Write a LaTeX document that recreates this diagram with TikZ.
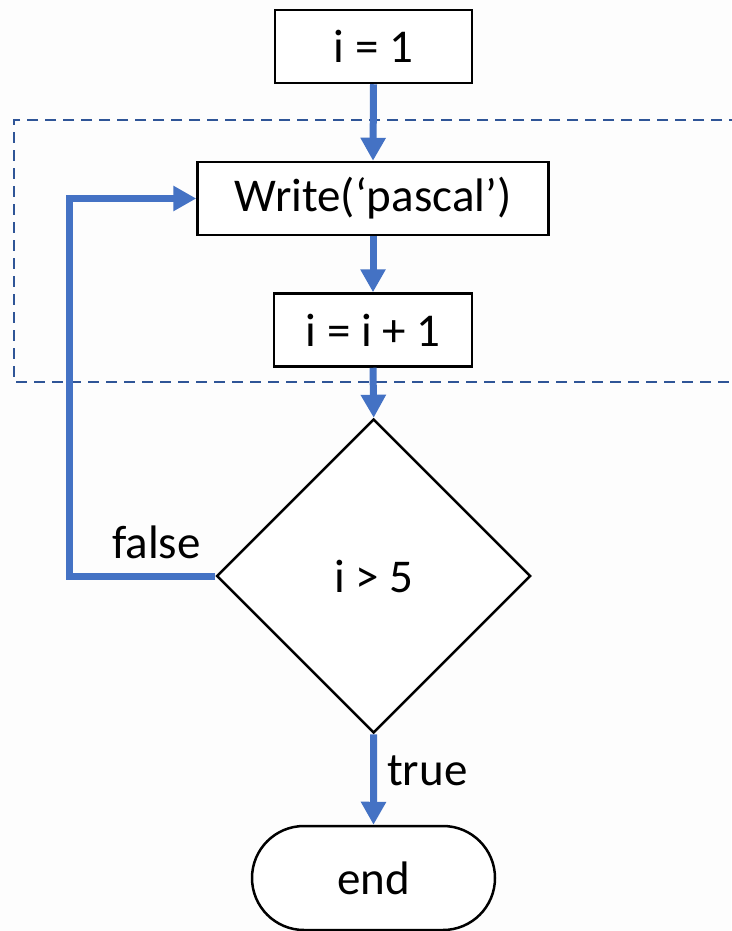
\documentclass[tikz,border=0pt]{standalone}
\usepackage{fontspec}
\setmainfont{Carlito}
\usetikzlibrary{arrows.meta,shapes.geometric}
\definecolor{flowblue}{HTML}{4472C4}
\definecolor{dashblue}{HTML}{2F5597}
\definecolor{bgc}{HTML}{FDFDFD}
\begin{document}
\begin{tikzpicture}[x=1pt,y=-1pt,
  every node/.style={font=\fontsize{47}{56}\selectfont},
  procbox/.style={draw=black,line width=2.5pt,fill=white,rectangle,minimum height=73pt,inner sep=0pt},
  decbox/.style={draw=black,line width=2.5pt,fill=white,diamond,aspect=1,minimum width=314pt,minimum height=314pt,inner sep=0pt},
  termbox/.style={draw=black,line width=2.5pt,fill=white,rectangle,rounded corners=52pt,minimum width=243pt,minimum height=104pt,inner sep=0pt},
  flow/.style={draw=flowblue,line width=7pt,-{Triangle[width=24pt,length=23pt]}},
  loopline/.style={draw=dashblue,line width=2.8pt,dash pattern=on 11pt off 7pt},
  lbl/.style={inner sep=0pt}]
\fill[bgc] (0,0) rectangle (731,931);
\useasboundingbox (0,0) rectangle (731,931);
% dashed loop frame
\draw[loopline] (740,120) -- (14,120) -- (14,382) -- (740,382);
% nodes
\node[procbox,minimum width=197pt] (n1) at (373.5,46.5) {i = 1};
\node[procbox,minimum width=351pt] (wr) at (373,198.5) {Write(‘pascal’)};
\node[procbox,minimum width=198pt] (inc) at (373,330) {i = i + 1};
\node[decbox] (dec) at (373.7,576) {i > 5};
\node[termbox] (endn) at (373.5,878) {end};
\coordinate (bend) at (69,576);
% connectors
\draw[flow] (n1.south) -- (wr.north);
\draw[flow] (wr.south) -- (inc.north);
\draw[flow] (inc.south) -- (dec.north);
\draw[flow] (dec.south) -- (endn.north);
\draw[flow] (dec.west) -- (bend) |- (wr.west);
% labels
\node[lbl,anchor=base] (lf) at (156.5,558) {false};
\node[lbl,anchor=base west] (lt) at (387,785) {true};
\end{tikzpicture}
\end{document}
